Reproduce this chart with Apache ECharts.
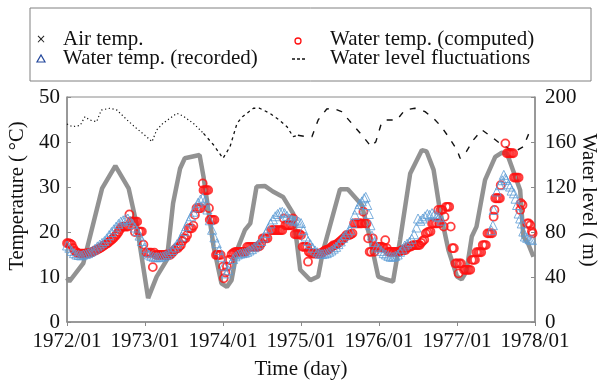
<!DOCTYPE html>
<html>
<head>
<meta charset="utf-8">
<script src="https://cdn.jsdelivr.net/npm/echarts@6/dist/echarts.min.js"></script>
<style>html,body{margin:0;padding:0;background:#fff}#c{width:598px;height:381px}</style>
</head>
<body>
<div id="c"></div>
<script>
// x tick values (years), labelled "YYYY/01"
const yearTicks = [1972, 1973, 1974, 1975, 1976, 1977, 1978];

// Air temperature [time (yr), °C]
const airTemp = [
[1972.00,9.8],[1972.03,9.0],[1972.21,13.1],[1972.45,29.7],[1972.62,34.7],[1972.79,29.7],[1972.89,21.9],
[1973.04,5.3],[1973.15,10.1],[1973.28,13.8],[1973.36,26.4],[1973.45,34.1],[1973.51,36.4],[1973.70,37.1],[1973.75,32.3],[1973.88,16.7],[1973.98,8.6],
[1974.05,7.8],[1974.11,9.3],[1974.18,16.0],[1974.28,20.4],[1974.35,21.9],[1974.43,30.1],[1974.54,30.2],[1974.64,29.0],[1974.77,27.8],[1974.90,24.1],[1974.99,11.6],
[1975.12,9.3],[1975.22,10.1],[1975.28,15.6],[1975.50,29.5],[1975.60,29.5],[1975.78,26.0],[1975.88,19.0],[1975.99,10.1],
[1976.08,9.5],[1976.18,9.0],[1976.27,18.2],[1976.40,33.0],[1976.55,38.2],[1976.61,37.9],[1976.70,33.8],[1976.78,24.9],[1976.89,16.0],
[1977.00,10.1],[1977.06,9.5],[1977.12,11.2],[1977.19,19.0],[1977.25,21.2],[1977.36,31.6],[1977.49,36.7],[1977.57,37.6],[1977.64,37.5],[1977.81,29.3],[1977.85,19.0],[1977.91,17.5],[1977.98,14.5]
];

// Recorded water temperature [time, °C]
const recordedTemp = [
[1972.00,17.0],[1972.03,16.5],[1972.06,15.8],[1972.09,15.3],[1972.12,15.0],[1972.15,14.9],[1972.18,14.8],[1972.21,15.0],[1972.24,15.1],[1972.27,15.3],[1972.30,15.6],[1972.33,15.9],[1972.36,16.3],[1972.39,16.8],[1972.42,17.2],[1972.45,17.6],[1972.48,18.0],[1972.51,18.6],[1972.54,19.3],[1972.57,20.0],[1972.60,20.6],[1972.63,21.2],[1972.66,21.8],[1972.69,22.3],[1972.72,22.6],[1972.75,22.9],[1972.78,23.0],[1972.81,22.5],[1972.84,21.8],[1972.87,21.0],[1972.90,20.2],[1972.93,19.2],[1972.96,18.0],[1972.99,16.5],
[1973.02,15.5],[1973.05,15.0],[1973.08,14.7],[1973.11,14.5],[1973.14,14.4],[1973.17,14.4],[1973.20,14.5],[1973.23,14.6],[1973.26,14.8],[1973.29,15.1],[1973.32,15.5],[1973.35,16.0],[1973.38,16.6],[1973.41,17.3],[1973.44,18.0],[1973.47,19.0],[1973.50,20.2],[1973.53,21.3],[1973.56,22.4],[1973.59,23.5],[1973.62,24.5],[1973.65,25.5],[1973.68,26.5],[1973.71,27.2],[1973.74,27.6],[1973.77,27.0],[1973.80,25.0],[1973.83,22.6],[1973.86,20.5],[1973.89,18.8],[1973.92,17.5],[1973.95,16.0],[1973.98,14.5],
[1974.01,12.5],[1974.04,10.8],[1974.07,11.5],[1974.10,13.0],[1974.13,14.0],[1974.16,14.6],[1974.19,15.0],[1974.22,15.2],[1974.25,15.3],[1974.28,15.4],[1974.31,15.6],[1974.34,15.9],[1974.37,16.2],[1974.40,16.6],[1974.43,17.0],[1974.46,17.4],[1974.49,18.0],[1974.52,18.8],[1974.55,19.8],[1974.58,20.8],[1974.61,21.9],[1974.64,22.8],[1974.67,23.5],[1974.70,24.0],[1974.73,24.4],[1974.76,24.5],[1974.79,24.2],[1974.82,23.6],[1974.85,23.0],[1974.88,22.8],[1974.91,22.5],[1974.94,22.6],[1974.97,22.3],
[1975.00,22.0],[1975.03,20.4],[1975.06,19.0],[1975.09,18.0],[1975.12,17.3],[1975.15,16.5],[1975.18,15.9],[1975.21,15.5],[1975.24,15.2],[1975.27,15.1],[1975.30,15.2],[1975.33,15.3],[1975.36,15.6],[1975.39,15.9],[1975.42,16.3],[1975.45,16.7],[1975.48,17.3],[1975.51,17.9],[1975.54,18.7],[1975.57,19.3],[1975.60,19.9],[1975.63,20.4],[1975.66,22.0],[1975.69,23.8],[1975.72,25.0],[1975.75,26.2],[1975.78,26.8],[1975.81,27.5],[1975.83,27.8],[1975.85,26.0],[1975.87,24.0],[1975.89,21.5],[1975.91,19.2],[1975.94,17.8],[1975.97,16.8],
[1976.00,16.4],[1976.03,15.8],[1976.06,15.3],[1976.09,15.0],[1976.12,14.7],[1976.15,14.5],[1976.18,14.5],[1976.21,14.7],[1976.24,15.0],[1976.27,15.6],[1976.30,16.3],[1976.33,17.0],[1976.36,17.4],[1976.39,17.8],[1976.42,18.5],[1976.45,19.5],[1976.48,21.0],[1976.50,23.0],[1976.53,22.5],[1976.56,23.0],[1976.59,23.5],[1976.62,24.0],[1976.65,23.8],[1976.68,24.2],[1976.71,24.0],[1976.74,23.5],[1976.77,23.3],[1976.80,22.5],
[1977.44,20.4],[1977.46,21.5],[1977.47,24.9],[1977.51,29.0],[1977.55,30.4],[1977.58,31.5],[1977.60,32.7],[1977.62,32.0],[1977.63,31.6],[1977.66,30.6],[1977.68,30.1],[1977.70,29.2],[1977.73,28.6],[1977.75,27.4],[1977.77,26.0],[1977.79,24.1],[1977.81,23.0],[1977.83,21.9],[1977.85,20.1],[1977.87,19.0],[1977.90,18.7],[1977.93,18.4],[1977.96,18.2]
];

// Computed water temperature [time, °C]
const computedTemp = [
[1972.00,17.5],[1972.02,17.5],[1972.04,17.4],[1972.06,17.2],[1972.08,16.4],[1972.10,15.8],[1972.12,15.5],[1972.14,15.3],[1972.16,15.2],[1972.18,15.2],[1972.20,15.2],[1972.22,15.2],[1972.24,15.2],[1972.26,15.3],[1972.28,15.3],[1972.30,15.4],[1972.32,15.5],[1972.34,15.7],[1972.36,15.9],[1972.38,16.0],[1972.40,16.2],[1972.42,16.4],[1972.44,16.6],[1972.46,16.8],[1972.48,17.1],[1972.50,17.3],[1972.52,17.5],[1972.54,17.8],[1972.56,18.1],[1972.58,18.4],[1972.60,18.7],[1972.62,19.1],[1972.64,19.5],[1972.66,20.0],[1972.68,20.6],[1972.70,21.1],[1972.72,21.2],[1972.74,21.2],[1972.76,21.2],[1972.78,21.2],[1972.80,23.9],[1972.82,22.3],[1972.84,22.3],[1972.86,22.3],[1972.87,20.0],[1972.88,22.3],[1972.90,22.3],[1972.92,20.1],[1972.94,20.1],[1972.96,20.1],[1972.98,17.2],
[1973.02,15.4],[1973.04,15.4],[1973.06,15.4],[1973.08,15.4],[1973.10,12.2],[1973.12,15.4],[1973.14,14.9],[1973.16,14.9],[1973.18,14.9],[1973.20,14.9],[1973.22,14.9],[1973.24,14.9],[1973.26,14.9],[1973.28,15.0],[1973.30,14.9],[1973.32,14.9],[1973.34,15.2],[1973.36,15.6],[1973.38,16.0],[1973.40,16.4],[1973.42,16.4],[1973.44,16.8],[1973.46,17.1],[1973.48,18.0],[1973.50,18.6],[1973.52,18.6],[1973.54,19.3],[1973.56,20.8],[1973.58,20.8],[1973.60,20.8],[1973.62,21.4],[1973.64,23.8],[1973.66,25.3],[1973.68,25.3],[1973.70,25.3],[1973.72,25.3],[1973.74,30.8],[1973.75,29.3],[1973.77,29.3],[1973.79,29.3],[1973.81,29.3],[1973.82,25.3],[1973.83,22.7],[1973.85,22.7],[1973.87,22.7],[1973.89,22.7],[1973.91,14.9],[1973.93,14.9],[1973.95,14.9],[1973.97,14.9],
[1974.00,12.3],[1974.01,9.7],[1974.03,11.0],[1974.05,12.3],[1974.07,13.8],[1974.09,13.8],[1974.11,15.0],[1974.13,15.3],[1974.15,15.5],[1974.17,15.6],[1974.19,15.6],[1974.21,15.6],[1974.23,15.6],[1974.25,15.6],[1974.27,15.6],[1974.29,15.6],[1974.31,16.7],[1974.33,16.7],[1974.35,16.7],[1974.37,16.7],[1974.39,16.7],[1974.41,16.7],[1974.43,16.7],[1974.45,16.7],[1974.47,16.9],[1974.49,17.5],[1974.51,18.6],[1974.53,18.6],[1974.55,18.6],[1974.57,18.6],[1974.62,20.4],[1974.64,20.4],[1974.66,20.4],[1974.68,20.4],[1974.70,20.4],[1974.72,20.4],[1974.74,20.4],[1974.76,20.4],[1974.78,23.0],[1974.80,21.5],[1974.82,21.5],[1974.84,21.5],[1974.86,21.5],[1974.88,21.5],[1974.90,23.0],[1974.92,19.5],[1974.94,19.5],[1974.96,19.5],[1974.98,19.5],
[1975.00,19.3],[1975.02,16.7],[1975.04,16.7],[1975.06,16.7],[1975.08,16.7],[1975.09,13.4],[1975.10,15.6],[1975.12,15.4],[1975.14,15.2],[1975.16,15.2],[1975.18,15.2],[1975.20,15.2],[1975.22,15.2],[1975.24,15.2],[1975.26,15.3],[1975.28,15.5],[1975.30,15.8],[1975.32,16.0],[1975.34,16.0],[1975.36,16.2],[1975.38,16.5],[1975.40,16.8],[1975.42,17.1],[1975.44,17.1],[1975.46,17.3],[1975.48,17.6],[1975.50,17.9],[1975.52,18.2],[1975.54,18.5],[1975.56,18.8],[1975.58,19.3],[1975.60,19.3],[1975.62,19.3],[1975.64,19.5],[1975.66,19.7],[1975.68,21.9],[1975.70,21.9],[1975.72,21.9],[1975.74,21.9],[1975.76,21.9],[1975.78,21.9],[1975.80,24.5],[1975.82,21.9],[1975.84,21.9],[1975.86,18.6],[1975.88,15.6],[1975.90,15.6],[1975.92,18.6],[1975.94,15.6],[1975.96,16.7],[1975.98,16.7],
[1976.00,16.7],[1976.02,16.7],[1976.04,16.7],[1976.06,16.5],[1976.08,18.2],[1976.10,16.4],[1976.12,15.6],[1976.14,15.6],[1976.16,15.6],[1976.18,15.6],[1976.20,15.6],[1976.22,15.6],[1976.24,15.6],[1976.26,15.6],[1976.28,15.8],[1976.30,16.0],[1976.32,16.0],[1976.34,16.0],[1976.36,16.5],[1976.38,16.7],[1976.40,16.7],[1976.42,16.9],[1976.44,17.1],[1976.46,17.1],[1976.48,17.1],[1976.50,17.1],[1976.52,17.1],[1976.54,17.6],[1976.56,18.0],[1976.58,18.3],[1976.60,19.7],[1976.62,19.9],[1976.64,20.1],[1976.66,20.1],[1976.68,21.9],[1976.70,21.9],[1976.72,21.9],[1976.74,21.9],[1976.76,24.9],[1976.77,21.9],[1976.79,24.9],[1976.81,24.9],[1976.83,21.2],[1976.84,23.4],[1976.86,25.6],[1976.88,25.6],[1976.90,25.6],[1976.92,21.2],[1976.94,16.4],[1976.96,16.4],[1976.98,13.0],
[1977.00,13.0],[1977.02,10.8],[1977.03,13.0],[1977.05,13.0],[1977.09,11.6],[1977.11,11.6],[1977.13,11.6],[1977.15,11.6],[1977.17,11.6],[1977.19,13.8],[1977.21,13.8],[1977.23,13.8],[1977.25,15.5],[1977.27,15.5],[1977.29,15.5],[1977.31,15.5],[1977.33,17.1],[1977.35,17.1],[1977.37,17.1],[1977.39,19.7],[1977.41,19.7],[1977.43,19.7],[1977.45,19.7],[1977.47,23.4],[1977.48,24.9],[1977.49,27.5],[1977.51,27.5],[1977.53,27.5],[1977.55,27.5],[1977.56,30.4],[1977.62,39.7],[1977.64,37.5],[1977.66,37.5],[1977.68,37.5],[1977.70,37.5],[1977.72,37.5],[1977.73,32.1],[1977.75,32.1],[1977.77,32.1],[1977.79,32.1],[1977.81,24.9],[1977.82,26.4],[1977.84,26.0],[1977.90,21.9],[1977.92,21.9],[1977.94,21.5],[1977.96,20.1],[1977.97,19.7]
];

// Water level [time, m] in three line-style pieces
const levelDotted = [
[1972.00,176.0],[1972.07,173.6],[1972.17,174.8],[1972.23,182.5],[1972.29,179.6],[1972.38,178.0],[1972.44,188.4],[1972.55,190.0],[1972.64,188.4],[1972.77,179.6],[1972.89,172.2],[1973.02,164.7],[1973.09,160.3],[1973.15,170.7],[1973.23,176.6],[1973.41,185.5],[1973.49,183.0],[1973.62,176.6],[1973.75,167.7]
];
const levelShortDash = [
[1973.75,167.7],[1973.88,157.3],[1974.00,145.5],[1974.09,155.8],[1974.18,176.6],[1974.25,182.5],[1974.39,190.0],[1974.47,190.0],[1974.60,185.5],[1974.72,179.6],[1974.82,173.6],[1974.90,164.7],[1974.96,166.0]
];
const levelLongDash = [
[1974.96,166.0],[1975.07,164.7],[1975.14,164.7],[1975.22,179.6],[1975.33,189.3],[1975.41,190.0],[1975.52,187.0],[1975.65,176.6],[1975.78,166.2],[1975.90,155.8],[1975.96,160.3],[1976.03,176.6],[1976.08,179.6],[1976.23,179.6],[1976.33,188.4],[1976.46,190.0],[1976.59,187.0],[1976.70,181.0],[1976.80,173.6],[1976.89,164.7],[1977.00,152.9],[1977.04,145.5],[1977.12,151.4],[1977.21,161.8],[1977.32,170.7],[1977.44,164.7],[1977.55,158.8],[1977.66,154.4],[1977.74,151.4],[1977.85,155.8],[1977.94,170.7]
];

const FONT = 'Liberation Serif';
const chart = echarts.init(document.getElementById('c'), null, {renderer: 'canvas'});
const axisGray = '#8a8a8a';

const option = {
  backgroundColor: '#fff',
  animation: false,
  grid: {left: 67, right: 63, top: 97, bottom: 59, show: true, borderColor: axisGray, borderWidth: 1, backgroundColor: 'transparent'},
  xAxis: {
    type: 'value', min: yearTicks[0], max: yearTicks[yearTicks.length - 1], interval: 1,
    axisLine: {lineStyle: {color: axisGray, width: 1.5}},
    axisTick: {show: true, length: 4, lineStyle: {color: axisGray}},
    splitLine: {show: false},
    axisLabel: {formatter: v => v + '/01', fontFamily: FONT, fontSize: 21, color: '#111', margin: 9}
  },
  yAxis: [
    {type: 'value', min: 0, max: 50, interval: 10, position: 'left',
     axisLine: {show: true, lineStyle: {color: axisGray, width: 1.5}},
     axisTick: {show: true, inside: true, length: 4, lineStyle: {color: axisGray}},
     splitLine: {show: false},
     axisLabel: {fontFamily: FONT, fontSize: 21, color: '#111', margin: 7}},
    {type: 'value', min: 0, max: 200, interval: 40, position: 'right',
     axisLine: {show: true, lineStyle: {color: axisGray, width: 1.5}},
     axisTick: {show: true, inside: true, length: 4, lineStyle: {color: axisGray}},
     splitLine: {show: false},
     axisLabel: {fontFamily: FONT, fontSize: 21, color: '#111', margin: 10}}
  ],
  series: [
    {name: 'Air temp.', type: 'line', data: airTemp, yAxisIndex: 0, showSymbol: false, symbol: 'none',
     lineStyle: {color: '#8c8c8c', width: 4.5, opacity: 0.95}, z: 2},
    {name: 'Water level fluctuations', type: 'line', data: levelDotted, yAxisIndex: 1, symbol: 'none',
     lineStyle: {color: '#111', width: 1.2, type: [1.2, 2.6]}, z: 3},
    {name: 'Water level fluctuations', type: 'line', data: levelShortDash, yAxisIndex: 1, symbol: 'none',
     lineStyle: {color: '#111', width: 1.3, type: [3, 3.5]}, z: 3},
    {name: 'Water level fluctuations', type: 'line', data: levelLongDash, yAxisIndex: 1, symbol: 'none',
     lineStyle: {color: '#111', width: 1.4, type: [6, 8]}, z: 3},
    {name: 'Water temp. (computed)', type: 'scatter', data: computedTemp, yAxisIndex: 0, symbol: 'circle', symbolSize: 8,
     itemStyle: {color: 'rgba(255,255,255,0)', borderColor: '#ff1010', borderWidth: 1.8}, z: 4},
    {name: 'Water temp. (recorded)', type: 'scatter', data: recordedTemp, yAxisIndex: 0, symbol: 'triangle', symbolSize: 9,
     itemStyle: {color: 'rgba(255,255,255,0)', borderColor: '#5b9bd5', borderWidth: 1}, z: 5}
  ],
  graphic: [
    {type: 'rect', shape: {x: 30, y: 8, width: 561, height: 73}, style: {fill: 'none', stroke: '#808080', lineWidth: 1}, silent: true},
    {type: 'text', x: 41, y: 40, style: {text: '×', fontFamily: 'DejaVu Sans', fontSize: 12, fill: '#222', align: 'center', verticalAlign: 'middle'}},
    {type: 'text', x: 63, y: 39, style: {text: 'Air temp.', fontFamily: FONT, fontSize: 21, fill: '#111', align: 'left', verticalAlign: 'middle'}},
    {type: 'polygon', shape: {points: [[37, 62], [45, 62], [41, 55]]}, style: {fill: 'none', stroke: '#23479b', lineWidth: 1.2}},
    {type: 'text', x: 63, y: 58, style: {text: 'Water temp. (recorded)', fontFamily: FONT, fontSize: 21, fill: '#111', align: 'left', verticalAlign: 'middle'}},
    {type: 'circle', shape: {cx: 298, cy: 41, r: 3}, style: {fill: 'none', stroke: '#ff1010', lineWidth: 1.3}},
    {type: 'text', x: 330, y: 39, style: {text: 'Water temp. (computed)', fontFamily: FONT, fontSize: 21, fill: '#111', align: 'left', verticalAlign: 'middle'}},
    {type: 'line', shape: {x1: 292, y1: 59, x2: 305, y2: 59}, style: {stroke: '#111', lineWidth: 1.5, lineDash: [3, 2]}},
    {type: 'text', x: 330, y: 58, style: {text: 'Water level fluctuations', fontFamily: FONT, fontSize: 21, fill: '#111', align: 'left', verticalAlign: 'middle'}},
    {type: 'text', x: 18, y: 196, rotation: Math.PI / 2, style: {text: 'Temperature ( °C)', fontFamily: FONT, fontSize: 20.5, fill: '#111', align: 'center', verticalAlign: 'middle'}},
    {type: 'text', x: 588, y: 200, rotation: -Math.PI / 2, style: {text: 'Water level ( m)', fontFamily: FONT, fontSize: 20.5, fill: '#111', align: 'center', verticalAlign: 'middle'}},
    {type: 'text', x: 301, y: 369, style: {text: 'Time (day)', fontFamily: FONT, fontSize: 21, fill: '#111', align: 'center', verticalAlign: 'middle'}}
  ]
};
chart.setOption(option);
</script>
</body>
</html>
